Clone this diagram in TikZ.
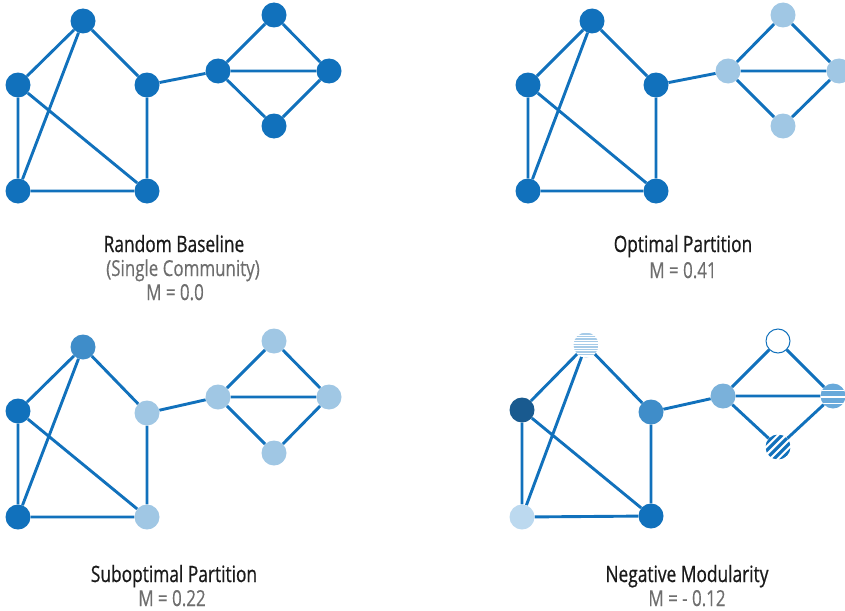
\documentclass[tikz,border=0pt]{standalone}
\usepackage{fontspec}
\setmainfont[FakeStretch=0.77]{Open Sans}
\newfontfamily\ttlfont[FakeStretch=0.77,FakeBold=0.7]{Open Sans}
\newfontfamily\sbtfont[FakeStretch=0.77,FakeBold=0.4]{Open Sans}
\pgfdeclarelayer{bg}
\pgfsetlayers{bg,main}
\definecolor{dk}{HTML}{1171BC}
\definecolor{lt}{HTML}{A0C7E4}
\definecolor{md}{HTML}{3F8DC9}
\definecolor{nv}{HTML}{195A8F}
\definecolor{pl}{HTML}{BCD9EF}
\definecolor{sk}{HTML}{7AB1DA}
\definecolor{ls}{HTML}{A6CBE8}
\definecolor{hs}{HTML}{68A9DA}
\definecolor{ttl}{HTML}{1A1A1A}
\definecolor{sbt}{HTML}{6E6E6E}
\newcommand\graphedges[1]{%
  \begin{pgfonlayer}{bg}
  \draw[edge] (#1A)--(#1B) (#1A)--(#1C) (#1A)--(#1D) (#1B)--(#1D) (#1B)--(#1E)
    (#1C)--(#1E) (#1D)--(#1E) (#1C)--(#1F) (#1F)--(#1G) (#1F)--(#1H)
    (#1F)--(#1I) (#1G)--(#1H) (#1H)--(#1I);
  \end{pgfonlayer}}
\begin{document}
\begin{tikzpicture}[x=1pt,y=-1pt,
  vtx/.style={circle, minimum size=25pt, inner sep=0pt, fill=dk},
  vlt/.style={vtx, fill=lt},
  edge/.style={draw=dk, line width=2.9pt},
  ttlstyle/.style={anchor=base, font=\ttlfont\fontsize{22.5}{26}\selectfont, text=ttl, inner sep=0pt},
  sbtstyle/.style={anchor=base, font=\sbtfont\fontsize{22}{26}\selectfont, text=sbt, inner sep=0pt},
  hlines/.style={fill=white, path picture={
    \foreach \yy in {-13,-10.4,...,13}
      \fill[ls] ([shift={(-13pt,\yy pt)}]path picture bounding box.center) rectangle ++(26pt,1.4pt);}},
  hwhite/.style={fill=hs, path picture={
    \foreach \yy in {-8,-1.5,5}
      \fill[white] ([shift={(-13pt,\yy pt)}]path picture bounding box.center) rectangle ++(26pt,1.3pt);}},
  dstripes/.style={fill=white, path picture={
    \foreach \dd in {-23.4,-15.6,-7.8,0,7.8,15.6,23.4}
      \draw[dk, line width=3.2pt] ([shift={(\dd pt-16pt,-16pt)}]path picture bounding box.center) -- ++(32pt,32pt);}}
  ]
\clip (0,0) rectangle (845,610);
\path[use as bounding box] (0,0) rectangle (845,610);

% Panel 1
\node[vtx] (p1A) at (83,21) {};
\node[vtx] (p1B) at (18,85) {};
\node[vtx] (p1C) at (147,85) {};
\node[vtx] (p1D) at (18,191) {};
\node[vtx] (p1E) at (147,191) {};
\node[vtx] (p1F) at (218,71) {};
\node[vtx] (p1G) at (274,15) {};
\node[vtx] (p1H) at (329,71) {};
\node[vtx] (p1I) at (274,126) {};
\graphedges{p1}
\node[ttlstyle] (t1) at (174,252) {Random Baseline};
\node[sbtstyle] (s1a) at (183,276) {(Single Community)};
\node[sbtstyle] (s1b) at (175,300) {M = 0.0};

% Panel 2
\node[vtx] (p2A) at (592,21) {};
\node[vtx] (p2B) at (528,85) {};
\node[vtx] (p2C) at (656,85) {};
\node[vtx] (p2D) at (528,191) {};
\node[vtx] (p2E) at (656,191) {};
\node[vlt] (p2F) at (728,71) {};
\node[vlt] (p2G) at (783,15) {};
\node[vlt] (p2H) at (839,71) {};
\node[vlt] (p2I) at (783,126) {};
\graphedges{p2}
\node[ttlstyle] (t2) at (683,252) {Optimal Partition};
\node[sbtstyle] (s2) at (683,278) {M = 0.41};

% Panel 3
\node[vtx, fill=md] (p3A) at (83,347) {};
\node[vtx] (p3B) at (18,411) {};
\node[vlt] (p3C) at (147,413) {};
\node[vtx] (p3D) at (18,517) {};
\node[vlt] (p3E) at (147,517) {};
\node[vlt] (p3F) at (218,397) {};
\node[vlt] (p3G) at (274,341) {};
\node[vlt] (p3H) at (329,397) {};
\node[vlt] (p3I) at (274,453) {};
\graphedges{p3}
\node[ttlstyle] (t3) at (174,582) {Suboptimal Partition};
\node[sbtstyle] (s3) at (172,606) {M = 0.22};

% Panel 4
\node[vtx, hlines] (p4A) at (586,345) {};
\node[vtx, fill=nv] (p4B) at (522,410) {};
\node[vtx, fill=md] (p4C) at (651,412) {};
\node[vtx, fill=pl] (p4D) at (522,517) {};
\node[vtx] (p4E) at (651,516) {};
\node[vtx, fill=sk] (p4F) at (723,396) {};
\node[vtx, fill=white, draw=dk, line width=1pt, minimum size=24pt] (p4G) at (778,341) {};
\node[vtx, hwhite] (p4H) at (833,396) {};
\node[vtx, dstripes] (p4I) at (778,447) {};
\graphedges{p4}
\node[ttlstyle] (t4) at (687,582) {Negative Modularity};
\node[sbtstyle] (s4) at (687,606) {M = - 0.12};
\end{tikzpicture}
\end{document}
